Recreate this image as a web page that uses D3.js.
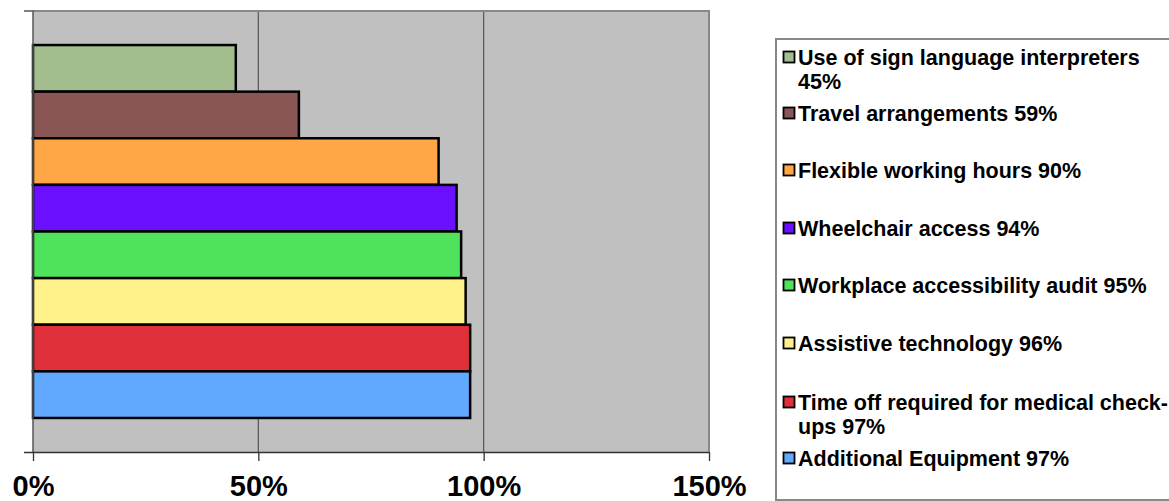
<!DOCTYPE html>
<html>
<head>
<meta charset="utf-8">
<script src="https://cdn.jsdelivr.net/npm/d3@7/dist/d3.min.js"></script>
<style>
  html, body { margin: 0; padding: 0; background: #fff; }
  svg { display: block; font-family: Arial, "Liberation Sans", sans-serif; }
</style>
</head>
<body>
<svg id="chart" width="1169" height="501"></svg>
<script>
// Workplace adjustments: share of respondents (%), top bar first
const categories = [
  "Use of sign language interpreters",
  "Travel arrangements",
  "Flexible working hours",
  "Wheelchair access",
  "Workplace accessibility audit",
  "Assistive technology",
  "Time off required for medical check-ups",
  "Additional Equipment"
];
const values = [45, 59, 90, 94, 95, 96, 97, 97];
const colors = ["#a3bd8e", "#8a5555", "#ffa646", "#6a10ff", "#4ee35b", "#fff28a", "#e0303a", "#62a8ff"];
// Legend text, split into its lines
const legendLines = [
  ["Use of sign language interpreters", "45%"],
  ["Travel arrangements 59%"],
  ["Flexible working hours 90%"],
  ["Wheelchair access 94%"],
  ["Workplace accessibility audit 95%"],
  ["Assistive technology 96%"],
  ["Time off required for medical check-", "ups 97%"],
  ["Additional Equipment 97%"]
];
const xTicks = [0, 50, 100, 150];

const svg = d3.select("#chart");
const plot = { left: 33, top: 11, right: 709, bottom: 452 };

const x = d3.scaleLinear().domain([0, 150]).range([plot.left, plot.right]);
const y = d3.scaleBand().domain(categories).range([plot.top, plot.bottom])
  .paddingInner(0).paddingOuter(0.73);

// plot background
svg.append("rect")
  .attr("x", plot.left).attr("y", plot.top)
  .attr("width", plot.right - plot.left).attr("height", plot.bottom - plot.top)
  .attr("fill", "#c0c0c0");

// vertical gridlines
svg.append("g").selectAll("line")
  .data(xTicks.filter(d => d > 0 && d < 150))
  .join("line")
  .attr("x1", d => x(d)).attr("x2", d => x(d))
  .attr("y1", plot.top).attr("y2", plot.bottom)
  .attr("stroke", "#555").attr("stroke-width", 1.2);

// plot frame: top and right
svg.append("path")
  .attr("d", `M${plot.left},${plot.top}H${plot.right}V${plot.bottom}`)
  .attr("fill", "none").attr("stroke", "#888").attr("stroke-width", 2);

// bars
svg.append("g").selectAll("rect")
  .data(categories)
  .join("rect")
  .attr("x", x(0))
  .attr("y", d => y(d))
  .attr("width", (d, i) => x(values[i]) - x(0))
  .attr("height", y.bandwidth())
  .attr("fill", (d, i) => colors[i])
  .attr("stroke", "#000").attr("stroke-width", 2.5);

// left axis line with a tick at the top
svg.append("path")
  .attr("d", `M${plot.left - 9},${plot.top}H${plot.left}V${plot.bottom}`)
  .attr("fill", "none").attr("stroke", "#555").attr("stroke-width", 1.5);

// bottom axis
const xAxis = d3.axisBottom(x).tickValues(xTicks).tickFormat(d => d + "%")
  .tickSizeInner(9).tickSizeOuter(0).tickPadding(14);
const gx = svg.append("g").attr("transform", `translate(0,${plot.bottom})`).call(xAxis);
gx.select(".domain").attr("stroke", "#333").attr("stroke-width", 1.5)
  .attr("d", `M${plot.left - 9},0.5H${plot.right}`);
gx.selectAll(".tick line").attr("stroke", "#333").attr("stroke-width", 1.3);
gx.selectAll(".tick text")
  .attr("fill", "#000")
  .style("font-size", "29px").style("font-weight", "bold")
  .style("font-family", "Arial, 'Liberation Sans', sans-serif");

// legend
const lg = svg.append("g");
lg.append("rect")
  .attr("x", 776).attr("y", 39).attr("width", 440).attr("height", 461)
  .attr("fill", "#fff").attr("stroke", "#888").attr("stroke-width", 2);

const itemY = [57, 113, 170, 228, 285, 343, 402, 458];
const items = lg.selectAll("g.item").data(categories).join("g")
  .attr("class", "item")
  .attr("transform", (d, i) => `translate(783,${itemY[i]})`);
items.append("rect")
  .attr("x", 0.5).attr("y", -5.5).attr("width", 11).attr("height", 11)
  .attr("fill", (d, i) => colors[i]).attr("stroke", "#000").attr("stroke-width", 1.8);
items.each(function(d, i) {
  const t = d3.select(this).append("text")
    .attr("x", 15).attr("y", 7.5)
    .style("font-size", "21.5px").style("font-weight", "bold").attr("fill", "#000");
  legendLines[i].forEach((line, k) => {
    t.append("tspan").attr("x", 15).attr("dy", k === 0 ? 0 : 24).text(line);
  });
});
</script>
</body>
</html>
